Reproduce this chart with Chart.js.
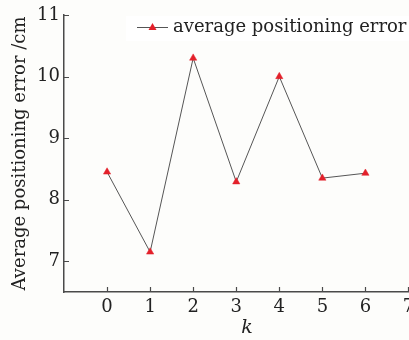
<!DOCTYPE html>
<html>
<head>
<meta charset="utf-8">
<script src="https://cdn.jsdelivr.net/npm/chart.js@4/dist/chart.umd.min.js"></script>
<style>
  html, body { margin: 0; padding: 0; background: #fdfdfb; overflow: hidden; }
  #wrap { width: 440px; height: 340px; }
</style>
</head>
<body>
<div id="wrap"><canvas id="chart" width="440" height="340"></canvas></div>
<script>
// data
const kValues = [0, 1, 2, 3, 4, 5, 6];
const avgError = [8.45, 7.15, 10.3, 8.29, 10.0, 8.35, 8.43];
const xTicks = [0, 1, 2, 3, 4, 5, 6, 7];
const yTicks = [7, 8, 9, 10, 11];
const seriesName = 'average positioning error';

const serif = 'DejaVu Serif';
const axisColor = '#4a4a4a';
const markColor = '#e3202a';

// inward tick marks on both axes
const insideTicks = {
  id: 'insideTicks',
  afterDraw(chart) {
    const ctx = chart.ctx, x = chart.scales.x, y = chart.scales.y;
    ctx.save();
    ctx.strokeStyle = axisColor;
    ctx.lineWidth = 1.2;
    ctx.beginPath();
    xTicks.forEach(v => {
      const px = Math.round(x.getPixelForValue(v)) + 0.5;
      ctx.moveTo(px, y.bottom);
      ctx.lineTo(px, y.bottom - 5);
    });
    yTicks.forEach(v => {
      const py = Math.round(y.getPixelForValue(v)) + 0.5;
      ctx.moveTo(x.left, py);
      ctx.lineTo(x.left + 5, py);
    });
    ctx.stroke();
    ctx.restore();
  }
};

// legend: line + triangle + label, top right inside the plot
const lineLegend = {
  id: 'lineLegend',
  afterDraw(chart) {
    const ctx = chart.ctx;
    const x0 = 137, yc = 27;
    ctx.save();
    ctx.fillStyle = '#ffffff';
    ctx.fillRect(126, 16, 300, 25);
    ctx.strokeStyle = '#555';
    ctx.lineWidth = 1;
    ctx.beginPath();
    ctx.moveTo(x0, yc + 0.5);
    ctx.lineTo(x0 + 31, yc + 0.5);
    ctx.stroke();
    ctx.fillStyle = markColor;
    ctx.beginPath();
    ctx.moveTo(x0 + 15.5, yc - 4);
    ctx.lineTo(x0 + 19.5, yc + 3);
    ctx.lineTo(x0 + 11.5, yc + 3);
    ctx.closePath();
    ctx.fill();
    ctx.fillStyle = '#222';
    ctx.font = '18px "' + serif + '"';
    ctx.textBaseline = 'middle';
    ctx.fillText(seriesName, x0 + 36, yc);
    ctx.restore();
  }
};

const ctx = document.getElementById('chart').getContext('2d');
new Chart(ctx, {
  type: 'scatter',
  data: {
    datasets: [{
      label: seriesName,
      data: kValues.map((k, i) => ({ x: k, y: avgError[i] })),
      showLine: true,
      borderColor: '#555',
      borderWidth: 1,
      pointStyle: 'triangle',
      pointRadius: 4.2,
      pointBackgroundColor: markColor,
      pointBorderColor: markColor,
      pointBorderWidth: 0.5
    }]
  },
  options: {
    responsive: false,
    animation: false,
    devicePixelRatio: 1,
    layout: { padding: { top: 15, left: 0, right: 10, bottom: 0 } },
    plugins: {
      legend: { display: false },
      tooltip: { enabled: false }
    },
    scales: {
      x: {
        type: 'linear',
        min: -1,
        max: 7.5,
        afterBuildTicks: s => { s.ticks = xTicks.map(v => ({ value: v })); },
        afterFit: s => { s.height = 48; },
        grid: { display: false, drawTicks: false },
        border: { display: true, color: axisColor, width: 1.5 },
        ticks: { padding: 5, color: '#222', font: { family: serif, size: 18 } },
        title: {
          display: true,
          text: 'k',
          color: '#222',
          font: { family: serif, size: 19, style: 'italic' },
          padding: { top: 0, bottom: 1 }
        }
      },
      y: {
        min: 6.5,
        max: 11,
        afterBuildTicks: s => { s.ticks = yTicks.map(v => ({ value: v })); },
        afterFit: s => { s.width = 64; },
        grid: { display: false, drawTicks: false },
        border: { display: true, color: axisColor, width: 1.5 },
        ticks: { padding: 4, color: '#222', font: { family: serif, size: 18 } },
        title: {
          display: true,
          text: 'Average positioning error /cm',
          color: '#222',
          font: { family: serif, size: 18 },
          padding: { top: 10, bottom: 0 }
        }
      }
    }
  },
  plugins: [insideTicks, lineLegend]
});
</script>
</body>
</html>
